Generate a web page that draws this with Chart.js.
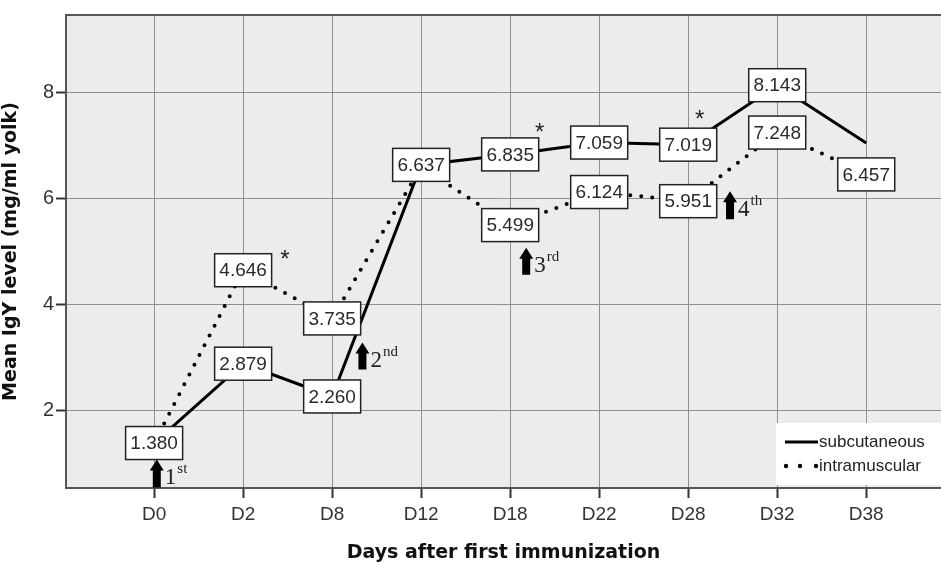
<!DOCTYPE html>
<html>
<head>
<meta charset="utf-8">
<script src="https://cdn.jsdelivr.net/npm/chart.js@4.4.0/dist/chart.umd.min.js"></script>
<style>
  html, body { margin: 0; padding: 0; background: #fff; }
  #wrap { width: 941px; height: 565px; }
</style>
</head>
<body>
<div id="wrap"><canvas id="igy"></canvas></div>
<script>
// days after first immunization
var days = ["D0", "D2", "D8", "D12", "D18", "D22", "D28", "D32", "D38"];
var yTicks = [2, 4, 6, 8];

// mean IgY (mg/ml yolk)
var subcutaneous = [1.380, 2.879, 2.260, 6.637, 6.835, 7.059, 7.019, 8.143, 7.05];
var intramuscular = [1.380, 4.646, 3.735, 6.60, 5.499, 6.124, 5.951, 7.248, 6.457];
var subLabels = ["1.380", "2.879", "2.260", "6.637", "6.835", "7.059", "7.019", "8.143", ""];
var imLabels = ["", "4.646", "3.735", "", "5.499", "6.124", "5.951", "7.248", "6.457"];

// immunization arrows (x in day index units, y in mg/ml)
var doseNum = ["1", "2", "3", "4"];
var doseSup = ["st", "nd", "rd", "th"];
var doseX = [0.03, 2.34, 4.18, 6.47];
var doseTop = [1.07, 3.28, 5.07, 6.14];
var doseBottom = [0.54, 2.77, 4.56, 5.61];

// significance stars
var starX = [1.47, 4.33, 6.13];
var starY = [4.94, 7.35, 7.6];

function toPoints(arr) {
  var pts = [];
  for (var i = 0; i < arr.length; i++) pts.push({ x: i, y: arr[i] });
  return pts;
}

var extras = {
  id: "extras",
  beforeDraw: function (chart) {
    var c = chart.ctx, a = chart.chartArea;
    c.save();
    c.fillStyle = "#ececec";
    c.fillRect(a.left, a.top, a.right - a.left, a.bottom - a.top);
    c.restore();
  },
  afterDatasetsDraw: function (chart) {
    var c = chart.ctx, a = chart.chartArea;
    var xs = chart.scales.x, ys = chart.scales.y;
    c.save();
    // frame
    c.strokeStyle = "#555";
    c.lineWidth = 2;
    c.beginPath();
    c.moveTo(a.right + 2, a.top);
    c.lineTo(a.left, a.top);
    c.lineTo(a.left, a.bottom);
    c.lineTo(a.right + 2, a.bottom);
    c.stroke();

    // value boxes
    c.font = "19px Arial, 'Liberation Sans', sans-serif";
    c.textAlign = "center";
    c.textBaseline = "middle";
    function box(txt, v, i) {
      if (!txt) return;
      var px = xs.getPixelForValue(i), py = ys.getPixelForValue(v);
      var w = 57, h = 33;
      c.fillStyle = "#fff";
      c.fillRect(px - w / 2, py - h / 2, w, h);
      c.strokeStyle = "#222";
      c.lineWidth = 1.5;
      c.strokeRect(px - w / 2, py - h / 2, w, h);
      c.fillStyle = "#2a2a2a";
      c.fillText(txt, px, py + 1);
    }
    for (var i = 0; i < days.length; i++) {
      box(subLabels[i], subcutaneous[i], i);
      box(imLabels[i], intramuscular[i], i);
    }

    // arrows
    for (var k = 0; k < doseNum.length; k++) {
      var ax = xs.getPixelForValue(doseX[k]);
      var top = ys.getPixelForValue(doseTop[k]);
      var bot = ys.getPixelForValue(doseBottom[k]);
      c.fillStyle = "#000";
      c.beginPath();
      c.moveTo(ax, top);
      c.lineTo(ax + 7, top + 11);
      c.lineTo(ax + 4, top + 11);
      c.lineTo(ax + 4, bot);
      c.lineTo(ax - 4, bot);
      c.lineTo(ax - 4, top + 11);
      c.lineTo(ax - 7, top + 11);
      c.closePath();
      c.fill();
      var ty = (top + bot) / 2 + 5;
      c.textAlign = "left";
      c.textBaseline = "middle";
      c.fillStyle = "#222";
      c.font = "23px 'Liberation Serif', 'Times New Roman', serif";
      c.fillText(doseNum[k], ax + 8, ty);
      var nw = c.measureText(doseNum[k]).width;
      c.font = "15px 'Liberation Serif', 'Times New Roman', serif";
      c.fillText(doseSup[k], ax + 9 + nw, ty - 9);
    }

    // stars
    c.font = "24px Arial, sans-serif";
    c.textAlign = "center";
    c.fillStyle = "#222";
    for (var s = 0; s < starX.length; s++) {
      c.fillText("*", xs.getPixelForValue(starX[s]), ys.getPixelForValue(starY[s]) + 6);
    }

    // legend
    var lx = 776, ly = 423;
    c.fillStyle = "#fff";
    c.fillRect(lx, ly, 941 - lx, 62);
    c.strokeStyle = "#000";
    c.lineWidth = 3;
    c.beginPath();
    c.moveTo(lx + 9, ly + 19);
    c.lineTo(lx + 42, ly + 19);
    c.stroke();
    c.fillStyle = "#000";
    var dots = [10, 24, 40];
    for (var d = 0; d < dots.length; d++) {
      c.beginPath();
      c.arc(lx + dots[d], ly + 43, 2.2, 0, Math.PI * 2);
      c.fill();
    }
    c.font = "17px Arial, 'Liberation Sans', sans-serif";
    c.textAlign = "left";
    c.fillStyle = "#222";
    c.fillText("subcutaneous", lx + 43, ly + 19);
    c.fillText("intramuscular", lx + 43, ly + 43);
    c.restore();
  }
};

new Chart(document.getElementById("igy"), {
  type: "line",
  data: {
    datasets: [
      {
        label: "subcutaneous",
        data: toPoints(subcutaneous),
        borderColor: "#000",
        borderWidth: 3,
        pointRadius: 0,
        tension: 0
      },
      {
        label: "intramuscular",
        data: toPoints(intramuscular),
        borderColor: "#000",
        borderWidth: 4,
        borderDash: [0, 11],
        borderCapStyle: "round",
        pointRadius: 0,
        tension: 0
      }
    ]
  },
  options: {
    responsive: true,
    maintainAspectRatio: false,
    animation: false,
    layout: { padding: { top: 15, right: 0, left: 0, bottom: 0 } },
    plugins: { legend: { display: false }, tooltip: { enabled: false } },
    scales: {
      x: {
        type: "linear",
        min: -0.99,
        max: 8.84,
        afterBuildTicks: function (s) { s.ticks = days.map(function (d, i) { return { value: i }; }); },
        afterFit: function (s) { s.height = 77; },
        ticks: {
          callback: function (v) { return days[v]; },
          color: "#333",
          font: { size: 19, family: "Arial, 'Liberation Sans', sans-serif" },
          padding: 5,
          maxRotation: 0
        },
        grid: { color: "#8f8f8f", lineWidth: 1, tickLength: 10, tickColor: "#333", tickWidth: 2 },
        border: { display: false },
        title: {
          display: true,
          text: "Days after first immunization",
          color: "#111",
          font: { size: 19, weight: "bold", family: "'DejaVu Sans', Verdana, sans-serif" },
          padding: { top: 0, bottom: 1 }
        }
      },
      y: {
        min: 0.53,
        max: 9.47,
        afterBuildTicks: function (s) { s.ticks = yTicks.map(function (v) { return { value: v }; }); },
        afterFit: function (s) { s.width = 66; },
        ticks: {
          color: "#333",
          font: { size: 20, family: "Arial, 'Liberation Sans', sans-serif" },
          padding: 2
        },
        grid: { color: "#8f8f8f", lineWidth: 1, tickLength: 10, tickColor: "#333", tickWidth: 2 },
        border: { display: false },
        title: {
          display: true,
          text: "Mean IgY level (mg/ml yolk)",
          color: "#111",
          font: { size: 19, weight: "bold", family: "'DejaVu Sans', Verdana, sans-serif" },
          padding: { top: 0, bottom: 1 }
        }
      }
    }
  },
  plugins: [extras]
});
</script>
</body>
</html>
